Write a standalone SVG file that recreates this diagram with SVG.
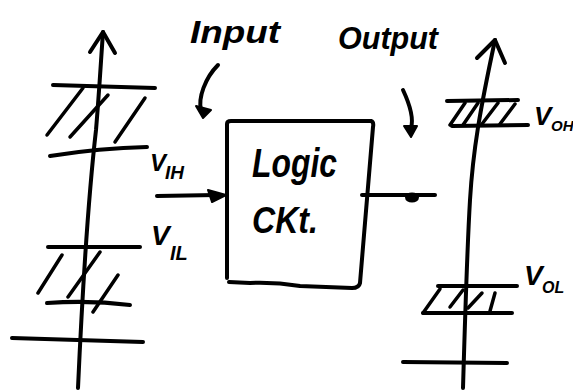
<svg xmlns="http://www.w3.org/2000/svg" width="573" height="392" viewBox="0 0 573 392">
<style>
.s{stroke:#000;stroke-width:4;fill:none;stroke-linecap:round;stroke-linejoin:round}
.h{stroke:#000;stroke-width:3.5;fill:none;stroke-linecap:round}
.b{fill:#000;stroke:#000;stroke-width:2;stroke-linejoin:round}
.t{font-family:"Liberation Sans",Arial,sans-serif;font-style:italic;font-weight:bold;fill:#000}
</style>
<rect width="573" height="392" fill="#fff"/>
<g id="input-axis">
<path class="s" d="M78,388 C82,300 88,200 96,130 C99,95 101,60 103,32"/>
<path class="s" d="M90,52 L103,32 L115,53"/>
<path class="s" d="M53,85 L155,88"/>
<path class="s" d="M50,156 Q100,148 147,147"/>
<path class="h" d="M47,135 L83,88 M70,137 L108,95 M115,142 L145,98"/>
<path class="s" d="M48,247 L140,247"/>
<path class="s" d="M47,303 Q90,300 130,305"/>
<path class="h" d="M38,293 L62,255 M68,297 L100,252 M93,312 L118,275"/>
<path class="s" d="M12,338 L143,342"/>
<text class="t" x="150" y="171" font-size="24">V</text>
<text class="t" x="165" y="179" font-size="19">IH</text>
<text class="t" x="151" y="245" font-size="28">V</text>
<text class="t" x="170" y="260" font-size="20">IL</text>
</g>
<g id="logic-box">
<path class="s" d="M227,278 L227,124 Q227,121 231,121 L371,121 Q374,122 373,127 L360,283 Q359,288 352,288 L300,286 Q275,282 250,283 L229,282"/>
<text class="t" x="252" y="177" font-size="40" textLength="85" lengthAdjust="spacingAndGlyphs">Logic</text>
<text class="t" x="252" y="233" font-size="36" textLength="66" lengthAdjust="spacingAndGlyphs">CKt.</text>
</g>
<g id="labels">
<text class="t" x="190" y="43" font-size="32" textLength="90" lengthAdjust="spacingAndGlyphs">Input</text>
<text class="t" x="338" y="49" font-size="32" textLength="100" lengthAdjust="spacingAndGlyphs">Output</text>
</g>
<g id="output-axis">
<path class="s" d="M463,388 C465,320 467,250 470,200 C473,150 480,110 495,40"/>
<path class="s" d="M477,58 L495,40 L505,63"/>
<path class="s" d="M447,101 L518,100"/>
<path class="s" d="M452,126 L528,125"/>
<path class="h" d="M450,125 L465,103 M463,125 L478,103 M482,124 L498,103 M500,124 L515,104"/>
<path class="s" d="M438,286 L517,286"/>
<path class="s" d="M423,313 L512,313"/>
<path class="h" d="M423,313 L440,289 M450,307 L463,290 M468,308 L482,293 M490,311 L495,293"/>
<path class="s" d="M403,362 L507,363"/>
<text class="t" x="534" y="125" font-size="26">V</text>
<text class="t" x="551" y="131" font-size="15">OH</text>
<text class="t" x="524" y="285" font-size="28">V</text>
<text class="t" x="542" y="293" font-size="16">OL</text>
</g>
<g id="connectors">
<path class="s" d="M157,196 L216,195"/>
<path class="b" d="M208,190 L226,195 L212,202 Z"/>
<path class="s" d="M362,195 L435,195"/>
<ellipse class="b" cx="412" cy="197.5" rx="6" ry="4"/>
<path class="s" d="M218,65 C205,78 198,98 201,110"/>
<path class="b" d="M196,106 L211,110 L203,118 Z"/>
<path class="s" d="M403,90 C410,105 414,118 411,128"/>
<path class="b" d="M404,126 L417,126 L411,137 Z"/>
</g>
</svg>
